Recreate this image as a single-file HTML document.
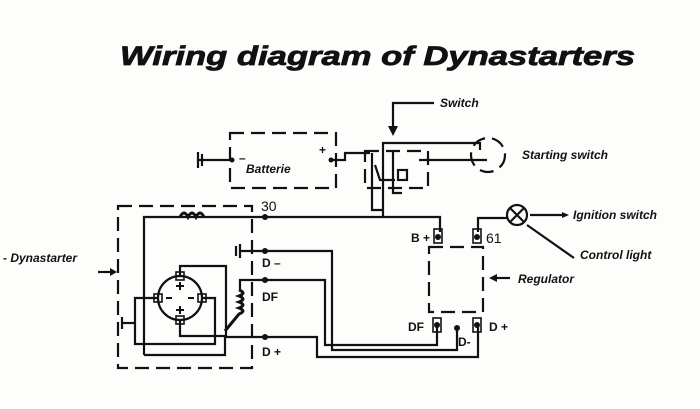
<!DOCTYPE html>
<html><head><style>body{margin:0;background:#fff}svg{display:block}</style></head><body>
<svg width="700" height="409" viewBox="0 0 700 409" xmlns="http://www.w3.org/2000/svg" font-family="Liberation Sans, sans-serif">
<rect width="700" height="409" fill="#fdfdfb"/>
<text x="120" y="65" font-size="27" font-weight="bold" font-style="italic" fill="#111" stroke="#111" stroke-width="0.8" textLength="515" lengthAdjust="spacingAndGlyphs">Wiring diagram of Dynastarters</text>
<g fill="none" stroke="#111" stroke-width="2.2">
<g stroke-dasharray="14,7">
<rect x="118" y="206" width="134" height="162"/>
<rect x="230" y="133" width="106" height="55"/>
<rect x="365" y="151" width="63" height="37"/>
<rect x="429" y="247" width="54" height="65"/>
<circle cx="488" cy="155" r="17"/>
</g>
<polyline points="144,355 144,217 440,217 440,232"/>
<path d="M180,217 q4,-8 8,0 q4,-8 8,0 q4,-8 8,0" stroke-width="3"/>
<polyline points="144,355 225,355 225,337"/>
<polyline points="383,217 383,143 480,143 480,150"/>
<line x1="198" y1="160" x2="232" y2="160"/>
<line x1="198" y1="152" x2="198" y2="168"/><line x1="202" y1="154" x2="202" y2="166"/>
<polyline points="331,160 345,160 345,153 370,153"/>
<polyline points="372,153 372,210 383,210"/>
<polyline points="419,160 487,160"/>
<polyline points="375,165 380,180 395,180"/>
<rect x="398" y="170" width="9" height="10"/>
<polyline points="393,150 393,193 402,193"/>
<polyline points="434,103 393,103 393,128"/>
<polyline points="240,251 332,251 332,350 457,350 457,328"/>
<line x1="240" y1="244" x2="240" y2="258"/><line x1="236" y1="246" x2="236" y2="256"/>
<polyline points="240,290 240,280 325,280 325,345 437,345 437,327"/>
<path d="M239,290 q8,3 0,6 q8,3 0,6 q8,3 0,6 q8,3 0,6 l-14,17" stroke-width="3"/>
<polyline points="225,337 317,337 317,357 478,357 478,327"/>
<circle cx="180" cy="298" r="22"/>
<polyline points="180,276 180,266 226,266 226,337"/>
<polyline points="180,320 180,336 225,336"/>
<polyline points="158,298 135,298 135,344 215,344 215,298 202,298"/>
<line x1="122" y1="323" x2="135" y2="323"/><line x1="122" y1="317" x2="122" y2="329"/>
<rect x="176" y="272" width="8" height="8" stroke-width="1.6"/>
<rect x="176" y="316" width="8" height="8" stroke-width="1.6"/>
<rect x="154" y="294" width="8" height="8" stroke-width="1.6"/>
<rect x="198" y="294" width="8" height="8" stroke-width="1.6"/>
<path d="M166,298 h6 M188,298 h6 M176,286 h8 M180,282 v8 M176,310 h8 M180,306 v8" stroke-width="2"/>
<polyline points="478,232 478,218 507,218"/>
<circle cx="517" cy="215" r="10"/>
<path d="M510,208 l14,14 M524,208 l-14,14"/>
<line x1="530" y1="215" x2="562" y2="215"/>
<line x1="527" y1="225" x2="574" y2="258"/>
<line x1="510" y1="278" x2="496" y2="278"/>
<line x1="98" y1="272" x2="110" y2="272"/>
<rect x="434" y="229" width="8" height="14" stroke-width="1.6"/>
<rect x="473" y="229" width="8" height="14" stroke-width="1.6"/>
<rect x="433" y="318" width="8" height="14" stroke-width="1.6"/>
<rect x="473" y="318" width="8" height="14" stroke-width="1.6"/>
</g>
<g fill="#111">
<circle cx="265" cy="217" r="3"/><circle cx="265" cy="251" r="3"/><circle cx="265" cy="280" r="3"/><circle cx="265" cy="337" r="3"/>
<circle cx="232" cy="160" r="2.5"/><circle cx="331" cy="160" r="2.5"/><circle cx="438" cy="237" r="3"/><circle cx="477" cy="237" r="3"/>
<circle cx="437" cy="325" r="3"/><circle cx="457" cy="328" r="3"/><circle cx="477" cy="325" r="3"/>
<polygon points="388,126 398,126 393,136"/><polygon points="562,212 562,218 569,215"/><polygon points="497,274 497,282 489,278"/>
<polygon points="110,268 110,276 117,272"/>
</g>
<g font-size="12" font-weight="bold" font-style="italic" fill="#111">
<text x="440" y="107">Switch</text>
<text x="246" y="173">Batterie</text>
<text x="522" y="159">Starting switch</text>
<text x="573" y="219">Ignition switch</text>
<text x="580" y="259">Control light</text>
<text x="518" y="283">Regulator</text>
<text x="3" y="262">- Dynastarter</text>
</g>
<g font-size="12" font-weight="bold" fill="#111">
<text x="262" y="267">D –</text><text x="262" y="301">DF</text><text x="262" y="356">D +</text>
<text x="411" y="242">B +</text><text x="408" y="331">DF</text><text x="489" y="331">D +</text><text x="458" y="346">D-</text>
<text x="239" y="162">–</text><text x="319" y="154">+</text>
</g>
<text x="261" y="211" font-size="14" fill="#111">30</text>
<text x="486" y="243" font-size="14" fill="#111">61</text>
</svg>
</body></html>
